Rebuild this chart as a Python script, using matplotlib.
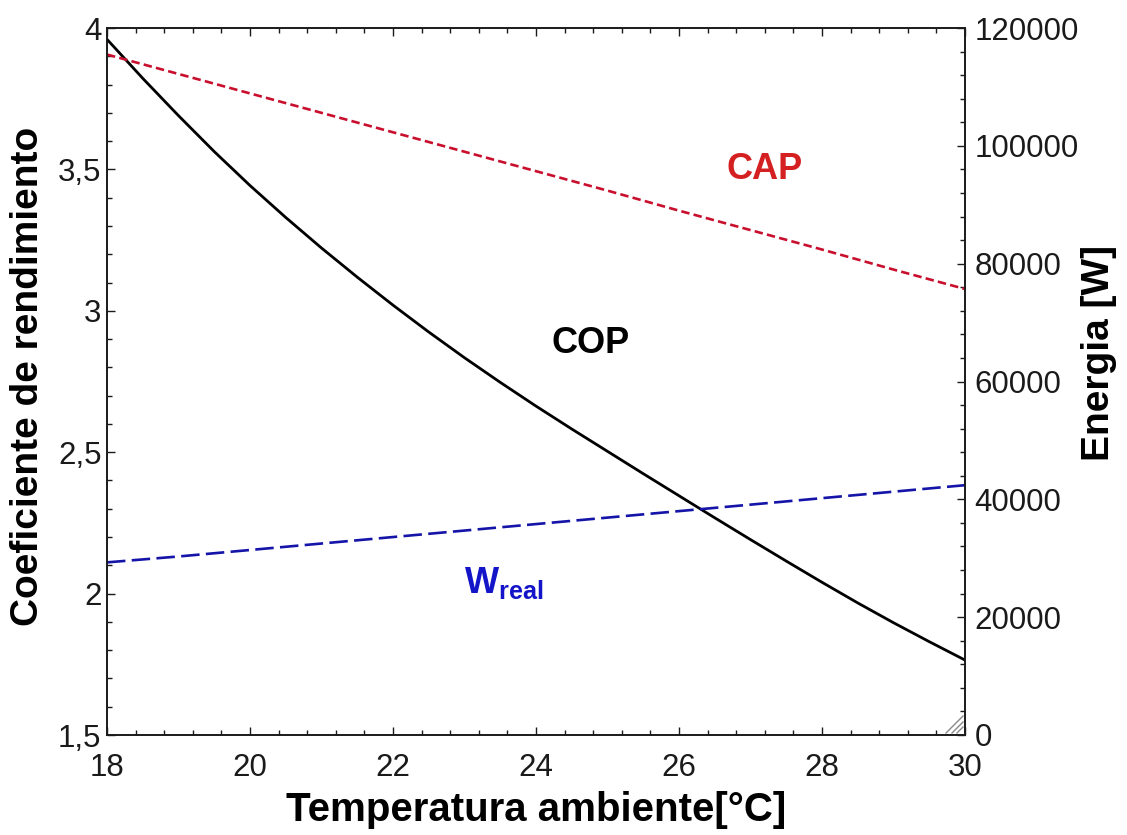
import matplotlib
matplotlib.use("Agg")
import matplotlib.pyplot as plt
from matplotlib.ticker import MultipleLocator, FuncFormatter
from matplotlib.lines import Line2D

plt.rcParams['font.family'] = ['Liberation Sans', 'DejaVu Sans']
plt.rcParams['mathtext.fontset'] = 'custom'
plt.rcParams['mathtext.bf'] = 'Liberation Sans:bold'
plt.rcParams['mathtext.rm'] = 'Liberation Sans'

# ---- data ----
temperature_cop = [18, 18.5, 19, 19.5, 20, 20.5, 21, 21.5, 22, 22.5, 23, 23.5, 24,
                   24.5, 25, 25.5, 26, 26.5, 27, 27.5, 28, 28.5, 29, 29.5, 30]
cop = [3.96, 3.822, 3.690, 3.563, 3.443, 3.330, 3.222, 3.119, 3.020, 2.925,
       2.834, 2.747, 2.663, 2.582, 2.503, 2.424, 2.346, 2.268, 2.191, 2.115,
       2.040, 1.967, 1.897, 1.830, 1.765]

temperature = [18, 19, 20, 21, 22, 23, 24, 25, 26, 27, 28, 29, 30]
cap = [115500, 112200, 108900, 105600, 102300, 99000, 95700, 92400,
       89000, 85700, 82400, 79000, 75700]
w_real = [29300, 30300, 31400, 32500, 33600, 34700, 35800, 36900,
          38000, 39100, 40200, 41300, 42400]

x_label = "Temperatura ambiente[°C]"
y_left_label = "Coeficiente de rendimiento"
y_right_label = "Energia [W]"

W, H = 1127, 835
L, R, T, B = 107, 965, 28, 735
fig = plt.figure(figsize=(W / 100, H / 100), dpi=100)
ax = fig.add_axes([L / W, 1 - B / H, (R - L) / W, (B - T) / H])
ax2 = ax.twinx()

ax.plot(temperature_cop, cop, color='black', lw=2.0, zorder=3)
ax2.plot(temperature, cap, color='#c8102e', lw=1.9, dashes=(3.2, 1.6))
ax2.plot(temperature, w_real, color='#1414a8', lw=1.9, dashes=(7.0, 2.4))

ax.set_xlim(18, 30)
ax.set_ylim(1.5, 4)
ax2.set_ylim(0, 120000)

ax.xaxis.set_major_locator(MultipleLocator(2))
ax.xaxis.set_minor_locator(MultipleLocator(0.4))
ax.yaxis.set_major_locator(MultipleLocator(0.5))
ax.yaxis.set_minor_locator(MultipleLocator(0.1))
ax2.yaxis.set_major_locator(MultipleLocator(20000))
ax2.yaxis.set_minor_locator(MultipleLocator(4000))

comma = FuncFormatter(lambda v, p: ('%g' % v).replace('.', ','))
ax.yaxis.set_major_formatter(comma)
ax.xaxis.set_major_formatter(FuncFormatter(lambda v, p: '%d' % v))
ax2.yaxis.set_major_formatter(FuncFormatter(lambda v, p: '%d' % v))

ax.tick_params(axis='both', which='both', direction='in', top=True, right=False,
               labelsize=22.5, colors='#1a1a1a', width=1.0)
ax.tick_params(axis='both', which='major', length=6)
ax.tick_params(axis='both', which='minor', length=3.5)
ax.tick_params(axis='y', pad=4)
ax.tick_params(axis='x', pad=13)
ax2.tick_params(axis='y', which='both', direction='in', labelsize=22.5,
                colors='#1a1a1a', width=1.0, pad=7)
ax2.tick_params(axis='y', which='major', length=6)
ax2.tick_params(axis='y', which='minor', length=3.5)

for a in (ax, ax2):
    for s in a.spines.values():
        s.set_linewidth(1.2)
        s.set_color('#1a1a1a')

# annotations
ax.text(27.2, 3.498, "CAP", color='#d42020', fontsize=26, fontweight='bold',
        ha='center', va='center')
ax.text(24.76, 2.886, "COP", color='black', fontsize=26, fontweight='bold',
        ha='center', va='center')
ax.text(23.0, 2.002, r"$\mathbf{W_{real}}$", color='#1414c8', fontsize=26,
        ha='left', va='baseline')

# axis labels
fig.text(536 / W, 1 - 810 / H, x_label, fontsize=29, fontweight='bold',
         ha='center', va='center')
fig.text(28 / W, 1 - 376 / H, y_left_label, fontsize=28, fontweight='bold',
         ha='center', va='center', rotation=90)
fig.text(1099 / W, 1 - 353 / H, y_right_label, fontsize=28, fontweight='bold',
         ha='center', va='center', rotation=90)

# resize-grip hatch in the corner
aw, ah = R - L, B - T
for length in (6, 11, 17):
    ax.add_line(Line2D([1 - (length + 2) / aw, 1 - 2 / aw],
                       [2 / ah, (length + 2) / ah],
                       transform=ax.transAxes, color='#8a8a8a', lw=1.0))

fig.savefig("out.png", dpi=100)
